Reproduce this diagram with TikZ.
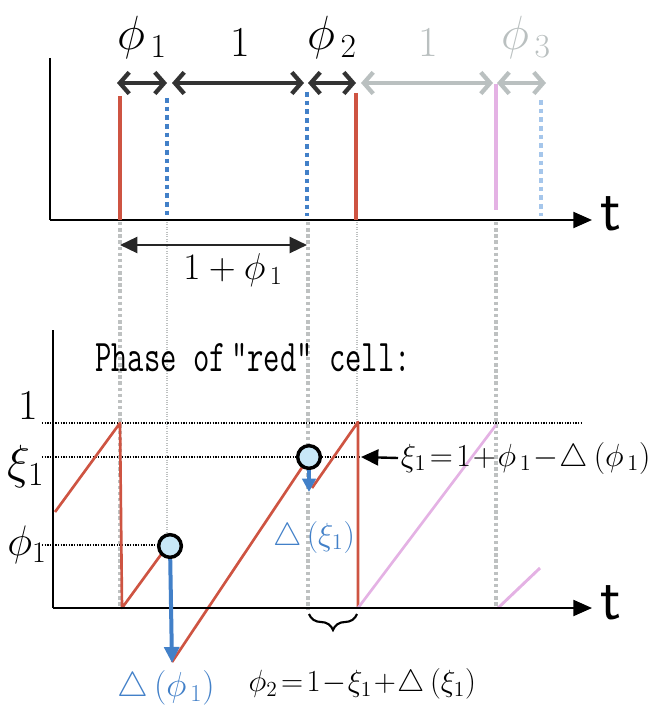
\RequirePackage{fix-cm}
\documentclass[tikz,border=0pt]{standalone}
\usepackage{fontspec}
\usetikzlibrary{arrows.meta,decorations.pathreplacing}
\definecolor{redc}{RGB}{206,84,66}
\definecolor{bluec}{RGB}{66,128,200}
\definecolor{pinkc}{RGB}{228,178,228}
\definecolor{grayarr}{RGB}{186,192,192}
\definecolor{grayline}{RGB}{190,193,193}
\definecolor{lblue}{RGB}{165,198,235}
\definecolor{circfill}{RGB}{200,232,248}
\tikzset{
  axis/.style={line width=1.6pt,-{Triangle[length=14pt,width=12pt]}},
  pulse/.style={line width=2.6pt},
  saw/.style={line width=2pt},
  chev/.style={line width=3.2pt,{Straight Barb[length=7pt,width=16pt,line width=3.2pt]}-{Straight Barb[length=7pt,width=16pt,line width=3.2pt]}},
  guide/.style={grayline,line width=2.6pt,dotted},
  fineguide/.style={grayline,line width=0.8pt,densely dotted},
  level/.style={black,line width=1pt,densely dotted},
  dot/.style={circle,draw=black,line width=2.6pt,fill=circfill,minimum size=17pt,inner sep=0pt},
  big/.style={font=\fontsize{36}{36}\selectfont},
  one/.style={font=\fontsize{32}{32}\selectfont},
  tlab/.style={font=\sffamily\fontsize{46}{46}\selectfont},
}
\begin{document}
\begin{tikzpicture}[x=0.75pt,y=-0.75pt]
\useasboundingbox (0,0) rectangle (666,709);
% ---------- guides (behind) ----------
\coordinate (g1t) at (120,222); \coordinate (g1b) at (120,608);
\coordinate (g2t) at (167,222); \coordinate (g2b) at (167,547);
\coordinate (g3t) at (308,222); \coordinate (g3b) at (308,610);
\coordinate (g4t) at (357,222); \coordinate (g4b) at (357,422);
\coordinate (g5t) at (496,222); \coordinate (g5b) at (496,608);
\draw[guide] (g1t) -- (g1b);
\draw[fineguide] (g2t) -- (g2b);
\draw[guide] (g3t) -- (g3b);
\draw[fineguide] (g4t) -- (g4b);
\draw[guide] (g5t) -- (g5b);
% ---------- top panel ----------
\coordinate (ya1) at (50,58); \coordinate (o1) at (50,220); \coordinate (xa1) at (592,220);
\draw[line width=1.6pt] (ya1) -- (o1);
\draw[axis] (o1) -- (xa1);
\node[tlab,anchor=west] (t1) at (596,214) {t};
% pulses
\coordinate (p1t) at (120,96); \coordinate (p1b) at (120,220);
\coordinate (b1t) at (167,98); \coordinate (b1b) at (167,216);
\coordinate (b2t) at (307,92); \coordinate (b2b) at (307,216);
\coordinate (p2t) at (356,93); \coordinate (p2b) at (356,220);
\coordinate (p3t) at (496,84); \coordinate (p3b) at (496,210);
\coordinate (b3t) at (541,100); \coordinate (b3b) at (541,216);
\draw[pulse,redc] (p1t) -- (p1b);
\draw[bluec,line width=3.5pt,dash pattern=on 3.5pt off 3pt] (b1t) -- (b1b);
\draw[bluec,line width=3.5pt,dash pattern=on 3.5pt off 3pt] (b2t) -- (b2b);
\draw[pulse,redc] (p2t) -- (p2b);
\draw[pinkc,line width=3pt] (p3t) -- (p3b);
\draw[lblue,line width=3.5pt,dash pattern=on 3.5pt off 3pt] (b3t) -- (b3b);
% interval arrows
\coordinate (a0) at (117,83); \coordinate (a1) at (167,83);
\coordinate (a2) at (172,83); \coordinate (a3) at (304,83);
\coordinate (a4) at (308,83); \coordinate (a5) at (356,83);
\coordinate (a6) at (361,83); \coordinate (a7) at (493,83);
\coordinate (a8) at (497,83); \coordinate (a9) at (546,83);
\draw[chev,black!80] (a0) -- (a1);
\draw[chev,black!80] (a2) -- (a3);
\draw[chev,black!80] (a4) -- (a5);
\draw[chev,grayarr] (a6) -- (a7);
\draw[chev,grayarr] (a8) -- (a9);
\node[big] (lphi1) at (142,38) {$\phi_{\,1}$};
\node[one] (lone1) at (240,42) {1};
\node[big] (lphi2) at (332,38) {$\phi_{\,2}$};
\node[one,grayarr] (lone2) at (428,42) {1};
\node[big,grayarr] (lphi3) at (526,38) {$\phi_{\,3}$};
% 1+phi1 arrow
\coordinate (c0) at (120,245); \coordinate (c1) at (307,245);
\draw[line width=1.8pt,{Triangle[length=13pt,width=12pt]}-{Triangle[length=13pt,width=12pt]},black!85] (c0) -- (c1);
\node[font=\fontsize{28}{28}\selectfont] (lsum) at (233,270) {$1+\phi_{\,1}$};
% ---------- bottom panel ----------
\coordinate (ya2) at (53,330); \coordinate (o2) at (53,608); \coordinate (xa2) at (592,608);
\draw[line width=1.6pt] (ya2) -- (o2);
\node[anchor=west,font=\ttfamily\fontsize{34}{34}\selectfont,xscale=0.7,inner sep=0pt] (title) at (95,358) {Phase of\,\textquotedblleft red\textquotedblright\ cell:};
% levels
\coordinate (l1a) at (42,423); \coordinate (l1b) at (582,423);
\coordinate (l2a) at (42,457); \coordinate (l2b) at (360,457);
\coordinate (l3a) at (42,545); \coordinate (l3b) at (168,545);
\draw[level] (l1a) -- (l1b);
\draw[level] (l2a) -- (l2b);
\draw[level] (l3a) -- (l3b);
\node[one] (y1) at (28,405) {1};
\node[font=\fontsize{36}{36}\selectfont] (yxi) at (26,466) {$\xi_{1}$};
\node[font=\fontsize{32}{32}\selectfont] (yphi) at (27,545) {$\phi_{1}$};
% sawtooth red
\coordinate (s0) at (55,512); \coordinate (s1) at (120,423); \coordinate (s2) at (122,608);
\coordinate (s3) at (168,545); \coordinate (s4) at (172,662); \coordinate (s5) at (309,457);
\coordinate (s6) at (312,488); \coordinate (s7) at (358,422); \coordinate (s8) at (358,608);
\draw[saw,redc,line join=round] (s0) -- (s1) -- (s2) -- (s3);
\draw[saw,redc] (s4) -- (s5);
\draw[saw,redc,line join=round] (s6) -- (s7) -- (s8);
% pink continuation
\coordinate (q1) at (496,425); \coordinate (q2) at (498,608); \coordinate (q3) at (540,568);
\draw[pinkc,line width=2pt] (s8) -- (q1);
\draw[pinkc,line width=2.2pt] (q2) -- (q3);
\draw[axis] (o2) -- (xa2);
\node[tlab,anchor=west] (t2) at (596,603) {t};
% kicks
\node[dot] (d1) at (170,546) {};
\node[dot] (d2) at (309,457) {};
\coordinate (k1) at (172,663); \coordinate (k2) at (309,492);
\draw[bluec,line width=3pt,-{Triangle[length=12pt,width=11pt]}] (d1) -- (k1);
\draw[bluec,line width=3pt,-{Triangle[length=10pt,width=10pt]}] (d2) -- (k2);
\node[bluec,font=\fontsize{26}{26}\selectfont] (ldp) at (166,688) {$\triangle\,(\phi_{\,1})$};
\node[bluec,font=\fontsize{24}{24}\selectfont] (ldx) at (314,537) {$\triangle\,(\xi_{1})$};
% xi1 label
\node[font=\fontsize{24}{24}\selectfont,anchor=west,inner xsep=2pt] (lxi) at (398,458) {$\xi_{1}\!=\!1\!+\!\phi_{\,1}\!-\!\triangle\,(\phi_{\,1})$};
\coordinate (xtip) at (361,457);
\draw[line width=1.8pt,-{Triangle[length=13pt,width=12pt]}] (lxi.west) -- (xtip);
% brace
\coordinate (br0) at (309,614); \coordinate (br1) at (357,614);
\draw[line width=1.6pt,decorate,decoration={brace,mirror,amplitude=12pt}] (br0) -- (br1);
\node[font=\fontsize{23}{23}\selectfont,anchor=west] (lphi2b) at (244,684) {$\phi_{2}\!=\!1\!-\!\xi_{1}\!+\!\triangle\,(\xi_{1})$};
\end{tikzpicture}
\end{document}
